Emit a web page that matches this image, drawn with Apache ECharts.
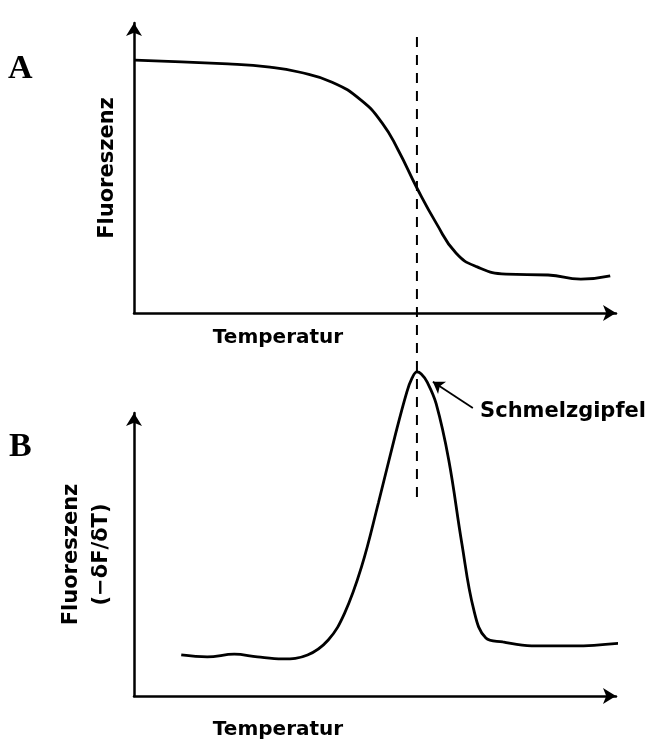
<!DOCTYPE html>
<html>
<head>
<meta charset="utf-8">
<title>Schmelzkurve und Schmelzgipfel</title>
<script src="https://cdn.jsdelivr.net/npm/echarts@6/dist/echarts.min.js"></script>
<style>
  html, body { margin: 0; padding: 0; background: #fff; }
  #chart { width: 648px; height: 743px; }
</style>
</head>
<body>
<div id="chart"></div>
<script>
// Panel A: melting curve (fluorescence vs. temperature), arbitrary units
const tempA = [0.2, 19.5, 28.2, 34.2, 41.1, 47.1, 51.5, 54.8, 58.7, 62.7, 66.8, 71.2, 77.2, 85.9, 92.7, 98.8];
const fluorA = [87.2, 85.9, 84.8, 83.1, 79.6, 73.4, 65.5, 56.2, 43.1, 31.0, 20.7, 15.9, 13.4, 13.1, 11.7, 12.8];

// Panel B: negative first derivative (-dF/dT), arbitrary units
const tempB = [9.8, 15.2, 20.8, 25.6, 30.8, 36.0, 40.3, 43.7, 47.2, 50.7, 54.1, 56.6, 57.7, 58.7, 59.6, 60.8, 62.7, 65.3, 68.0, 70.5, 73.0, 76.5, 82.5, 91.3, 101.0];
const derivB = [14.5, 13.8, 14.8, 13.8, 13.1, 14.5, 19.8, 29.3, 45.6, 68.2, 91.5, 107.4, 112.4, 114.5, 113.8, 111.0, 103.2, 83.4, 54.1, 30.4, 20.5, 19.1, 17.7, 17.7, 18.7];

// Melting temperature marker (dashed line through both panels, in panel A units)
const meltTemp = 58.7;
const meltLineSpan = [95.2, -63.8];

// Annotation arrow pointing at the peak (panel B units)
const peakArrowFrom = [70.3, 101.8];
const peakArrowTo = [62.0, 111.0];
const peakLabelAt = [71.8, 100.4];
const peakLabel = 'Schmelzgipfel';

const xTitle = 'Temperatur';
const yTitleA = 'Fluoreszenz';
const yTitleB = 'Fluoreszenz\n(\u2212\u03b4F/\u03b4T)';
const panelLetters = ['A', 'B'];

const zip = (xs, ys) => xs.map((x, i) => [x, ys[i]]);

const titleFont = {
  fontFamily: 'DejaVu Sans',
  fontWeight: 'bold',
  fontSize: 20,
  color: '#000'
};

const axisLineStyle = {
  onZero: false,
  symbol: ['none', 'arrow'],
  symbolSize: [12, 13],
  lineStyle: { color: '#000', width: 2.5 }
};

function makeXAxis(gridIndex, gap) {
  return {
    type: 'value',
    gridIndex: gridIndex,
    min: 0,
    max: 100,
    axisTick: { show: false },
    axisLabel: { show: false },
    splitLine: { show: false },
    axisLine: axisLineStyle,
    name: xTitle,
    nameLocation: 'middle',
    nameGap: gap,
    // right padding shifts the centred title towards the left part of the axis
    nameTextStyle: Object.assign({}, titleFont, { padding: [0, 194, 0, 0] })
  };
}

function makeYAxis(gridIndex, name, gap, lineHeight) {
  return {
    type: 'value',
    gridIndex: gridIndex,
    min: 0,
    max: 100,
    axisTick: { show: false },
    axisLabel: { show: false },
    splitLine: { show: false },
    axisLine: axisLineStyle,
    name: name,
    nameLocation: 'middle',
    nameGap: gap,
    nameTextStyle: Object.assign({}, titleFont, { fontSize: 21, lineHeight: lineHeight })
  };
}

const chart = echarts.init(document.getElementById('chart'), null, { renderer: 'canvas' });

chart.setOption({
  animation: false,
  backgroundColor: '#fff',
  grid: [
    { left: 134, right: 32, top: 23, bottom: 430 },
    { left: 134, right: 32, top: 413, bottom: 47 }
  ],
  xAxis: [makeXAxis(0, 15), makeXAxis(1, 24)],
  yAxis: [makeYAxis(0, yTitleA, 14, 24), makeYAxis(1, yTitleB, 17, 30)],
  graphic: [
    {
      type: 'text',
      left: 8,
      top: 52,
      style: { text: panelLetters[0], font: 'bold 34px "Liberation Serif"', fill: '#000' }
    },
    {
      type: 'text',
      left: 9,
      top: 430,
      style: { text: panelLetters[1], font: 'bold 34px "Liberation Serif"', fill: '#000' }
    }
  ],
  series: [
    {
      name: 'Schmelzkurve',
      type: 'line',
      xAxisIndex: 0,
      yAxisIndex: 0,
      data: zip(tempA, fluorA),
      smooth: 0.5,
      showSymbol: false,
      clip: false,
      silent: true,
      lineStyle: { color: '#000', width: 2.8 }
    },
    {
      name: 'Schmelztemperatur',
      type: 'line',
      xAxisIndex: 0,
      yAxisIndex: 0,
      data: meltLineSpan.map(v => [meltTemp, v]),
      showSymbol: false,
      clip: false,
      silent: true,
      lineStyle: { color: '#000', width: 2, type: [10, 8] }
    },
    {
      name: 'Ableitung',
      type: 'line',
      xAxisIndex: 1,
      yAxisIndex: 1,
      data: zip(tempB, derivB),
      smooth: 0.4,
      showSymbol: false,
      clip: false,
      silent: true,
      lineStyle: { color: '#000', width: 2.8 }
    },
    {
      name: 'Schmelzgipfel-Pfeil',
      type: 'lines',
      coordinateSystem: 'cartesian2d',
      xAxisIndex: 1,
      yAxisIndex: 1,
      clip: false,
      silent: true,
      symbol: ['none', 'arrow'],
      symbolSize: 11,
      lineStyle: { color: '#000', width: 1.8, opacity: 1, curveness: 0 },
      data: [{ coords: [peakArrowFrom, peakArrowTo] }]
    },
    {
      name: 'Schmelzgipfel-Text',
      type: 'scatter',
      xAxisIndex: 1,
      yAxisIndex: 1,
      clip: false,
      silent: true,
      symbolSize: 0,
      itemStyle: { opacity: 1 },
      data: [peakLabelAt],
      label: {
        show: true,
        position: 'right',
        distance: 0,
        formatter: peakLabel,
        fontFamily: 'DejaVu Sans',
        fontWeight: 'bold',
        fontSize: 21,
        color: '#000'
      }
    }
  ]
});
</script>
</body>
</html>
